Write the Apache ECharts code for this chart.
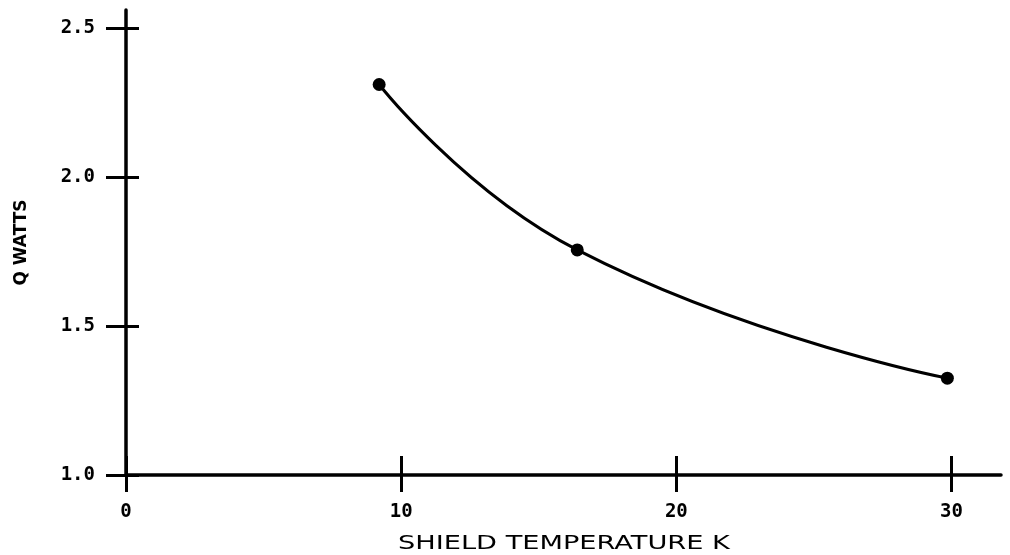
<!DOCTYPE html>
<html>
<head>
<meta charset="utf-8">
<script src="https://cdn.jsdelivr.net/npm/echarts@6/dist/echarts.min.js"></script>
<style>
    html, body { margin: 0; padding: 0; background: #fff; }
    #chart { width: 1010px; height: 555px; }
</style>
</head>
<body>
<div id="chart"></div>
<script>
    // values
    var temperature = [9.2, 16.4, 29.85];
    var watts = [2.31, 1.755, 1.325];
    var xTicks = [0, 10, 20, 30];
    var yTicks = [1.0, 1.5, 2.0, 2.5];

    var points = temperature.map(function (t, i) { return [t, watts[i]]; });

    var chart = echarts.init(document.getElementById('chart'));
    var labelFont = {
        color: '#000',
        fontFamily: 'DejaVu Sans Mono',
        fontWeight: 'bold',
        fontSize: 19
    };

    chart.setOption({
        animation: false,
        grid: {
            left: 126,
            right: 9,
            top: 10,
            bottom: 80,
            outerBoundsMode: 'none'
        },
        xAxis: [
            {
                type: 'value',
                min: 0,
                max: 31.8,
                interval: 10,
                position: 'bottom',
                splitLine: { show: false },
                axisLine: {
                    onZero: false,
                    lineStyle: { color: '#000', width: 3.5 }
                },
                axisTick: {
                    show: true,
                    inside: false,
                    length: 17,
                    customValues: xTicks,
                    lineStyle: { color: '#000', width: 3 }
                },
                axisLabel: Object.assign({
                    margin: 28,
                    customValues: xTicks
                }, labelFont)
            },
            {
                type: 'value',
                min: 0,
                max: 31.8,
                interval: 10,
                position: 'bottom',
                splitLine: { show: false },
                axisLine: { show: false, onZero: false },
                axisTick: {
                    show: true,
                    inside: true,
                    length: 19,
                    customValues: xTicks,
                    lineStyle: { color: '#000', width: 3 }
                },
                axisLabel: { show: false }
            }
        ],
        yAxis: [
            {
                type: 'value',
                min: 1.0,
                max: 2.56,
                interval: 0.5,
                position: 'left',
                name: 'Q WATTS',
                nameLocation: 'middle',
                nameGap: 96,
                nameTextStyle: {
                    color: '#000',
                    fontFamily: 'DejaVu Sans',
                    fontWeight: 'bold',
                    fontSize: 17
                },
                splitLine: { show: false },
                axisLine: {
                    onZero: false,
                    lineStyle: { color: '#000', width: 3.5 }
                },
                axisTick: {
                    show: true,
                    inside: false,
                    length: 20,
                    customValues: yTicks,
                    lineStyle: { color: '#000', width: 3 }
                },
                axisLabel: Object.assign({
                    margin: 31,
                    customValues: yTicks,
                    formatter: function (v) { return v.toFixed(1); }
                }, labelFont)
            },
            {
                type: 'value',
                min: 1.0,
                max: 2.56,
                interval: 0.5,
                position: 'left',
                splitLine: { show: false },
                axisLine: { show: false, onZero: false },
                axisTick: {
                    show: true,
                    inside: true,
                    length: 13,
                    customValues: yTicks,
                    lineStyle: { color: '#000', width: 3 }
                },
                axisLabel: { show: false }
            }
        ],
        graphic: [
            {
                type: 'text',
                left: 398,
                top: 534,
                scaleX: 1.36,
                style: {
                    text: 'SHIELD TEMPERATURE K',
                    fill: '#000',
                    font: '20px "DejaVu Sans"'
                }
            }
        ],
        series: [
            {
                name: 'Q',
                type: 'line',
                data: points,
                smooth: 0.5,
                symbol: 'circle',
                symbolSize: 13,
                itemStyle: { color: '#000' },
                lineStyle: { color: '#000', width: 3 }
            }
        ]
    });
</script>
</body>
</html>
